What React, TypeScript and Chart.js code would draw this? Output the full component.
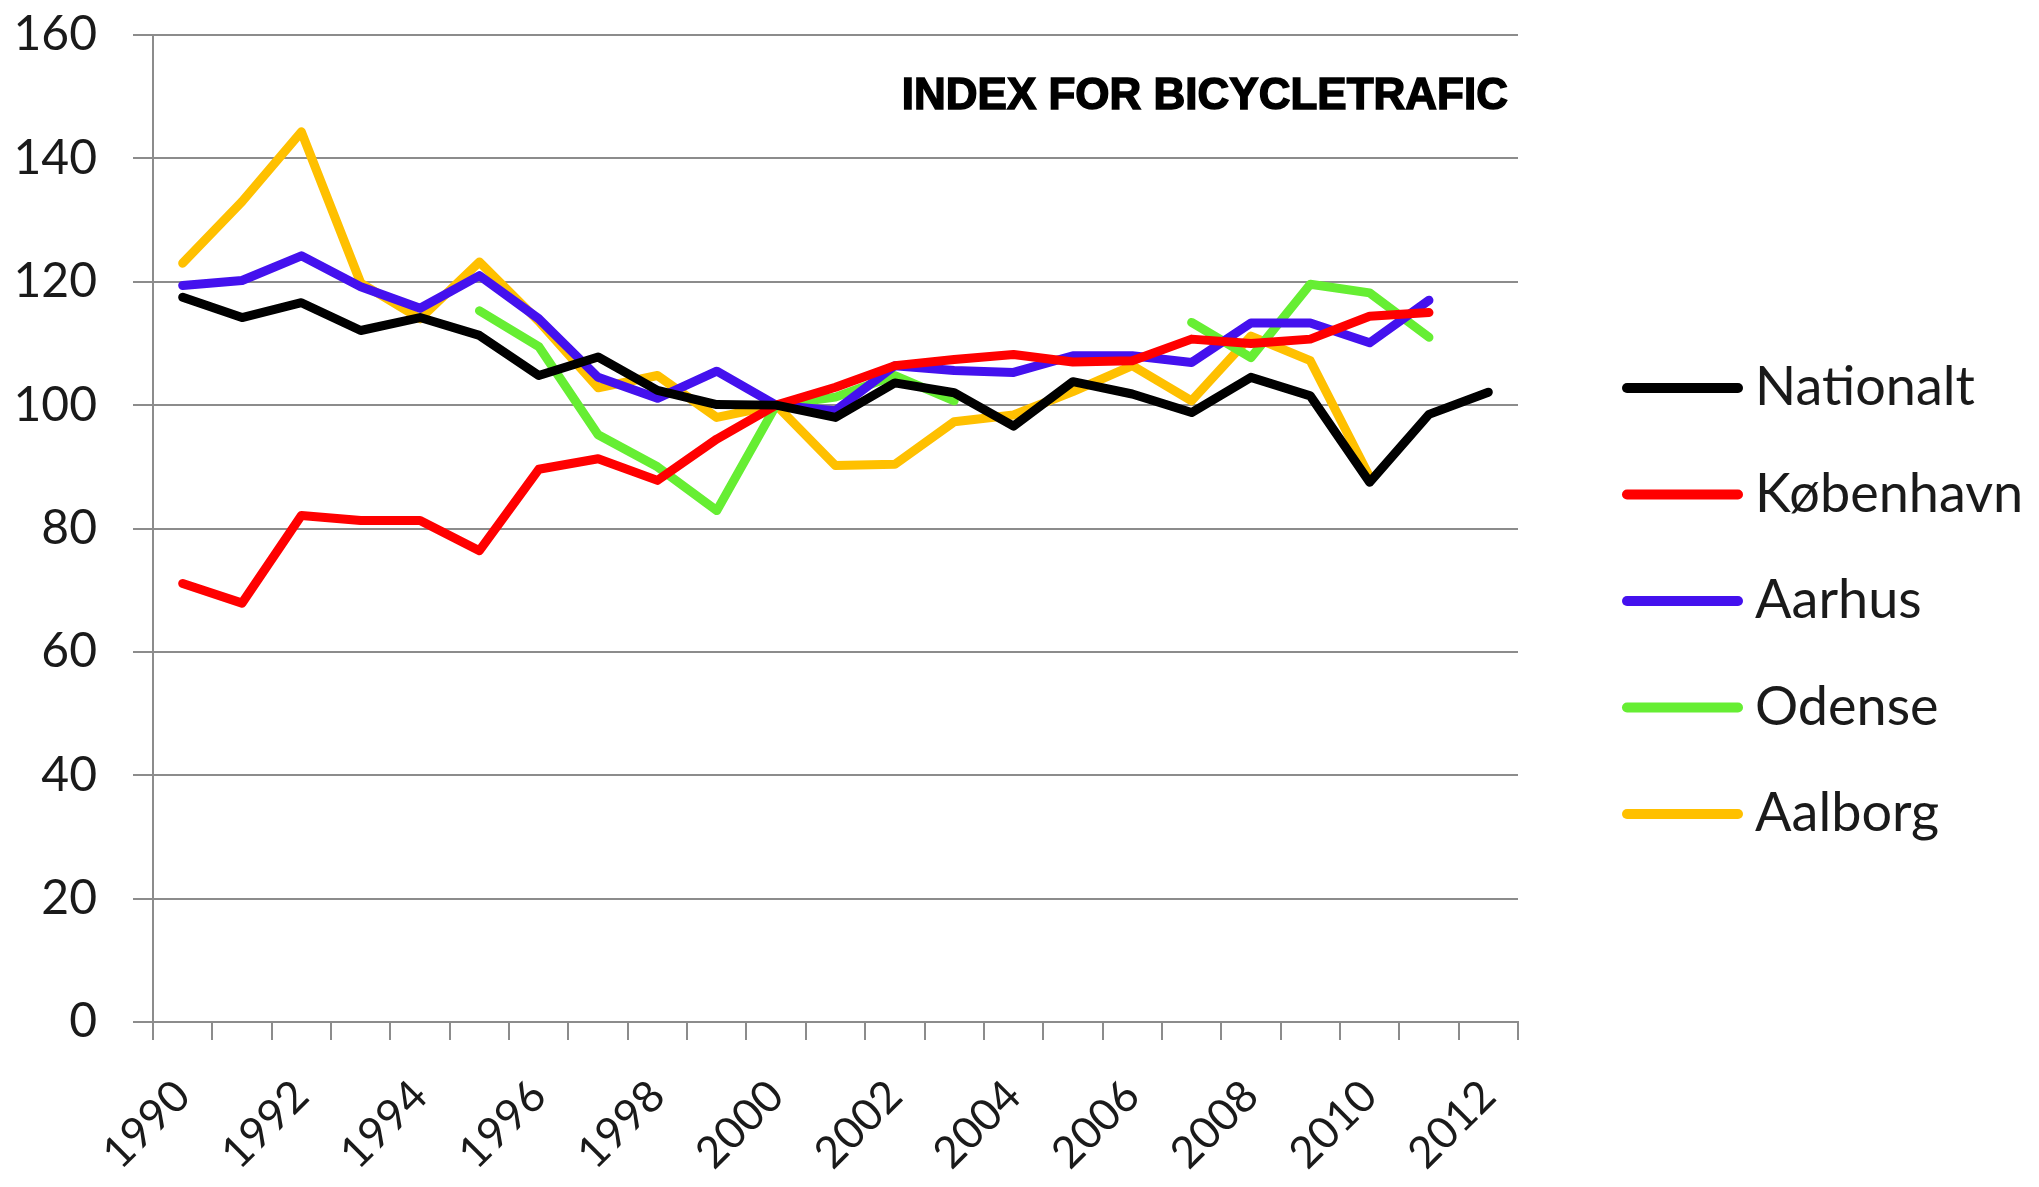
import React, { useEffect, useRef } from "react";
import { Chart, registerables } from "chart.js";

Chart.register(...registerables);

const years = [
  "1990", "1991", "1992", "1993", "1994", "1995", "1996", "1997", "1998", "1999", "2000",
  "2001", "2002", "2003", "2004", "2005", "2006", "2007", "2008", "2009", "2010", "2011", "2012",
];

const nationalt = [117.5, 114.2, 116.6, 112.1, 114.2, 111.3, 104.8, 107.8, 102.4, 100.1, 100, 98, 103.6, 102, 96.6, 103.8, 101.8, 98.8, 104.5, 101.5, 87.5, 98.5, 102.1];
const koebenhavn = [71.1, 67.9, 82.1, 81.3, 81.3, 76.4, 89.6, 91.3, 87.8, 94.5, 100, 102.9, 106.4, 107.4, 108.2, 107, 107.2, 110.7, 110, 110.7, 114.4, 115, null];
const aarhus = [119.4, 120.2, 124.2, 119.2, 115.7, 121, 114, 104.5, 101.1, 105.5, 100, 99.1, 106.4, 105.6, 105.3, 108, 108, 106.9, 113.3, 113.3, 110.1, 117, null];
const odense = [null, null, null, null, null, 115.3, 109.5, 95.2, 90, 82.9, 100, 101.3, 104.8, 100.7, null, null, null, 113.4, 107.7, 119.6, 118.2, 111, null];
const aalborg = [123, 133, 144.3, 119.8, 114, 123.2, 113.6, 102.8, 104.8, 98, 100, 90.2, 90.4, 97.3, 98.4, 102.2, 106.4, 100.7, 111.2, 107.2, 88.4, null, null];

const seriesNames = ["Nationalt", "København", "Aarhus", "Odense", "Aalborg"];
const seriesColors = ["#000000", "#ff0000", "#4411ee", "#66ee33", "#ffc000"];
const seriesData = [nationalt, koebenhavn, aarhus, odense, aalborg];

const yTicks = [0, 20, 40, 60, 80, 100, 120, 140, 160];
const chartTitle = "INDEX FOR BICYCLETRAFIC";

const W = 2039;
const H = 1187;
const FONT = "Lato, 'Open Sans', sans-serif";

const overlayPlugin = {
  id: "overlay",
  afterDraw(chart: any) {
    const ctx = chart.ctx;
    const area = chart.chartArea;
    ctx.save();
    // title inside plot, top right
    ctx.fillStyle = "#000";
    ctx.strokeStyle = "#000";
    ctx.lineWidth = 1.5;
    ctx.font = "bold 44px 'Liberation Sans', Arial, sans-serif";
    ctx.textAlign = "right";
    ctx.textBaseline = "alphabetic";
    ctx.fillText(chartTitle, area.right - 10, area.top + 74, 607);
    ctx.strokeText(chartTitle, area.right - 10, area.top + 74, 607);

    // legend on right
    const legendX = area.right + 104;
    const swatchLen = 121;
    const top = 388;
    const step = 106.5;
    ctx.font = `54px ${FONT}`;
    ctx.textAlign = "left";
    ctx.textBaseline = "middle";
    seriesNames.forEach((name, i) => {
      const y = top + i * step;
      ctx.strokeStyle = seriesColors[i];
      ctx.lineWidth = 10;
      ctx.lineCap = "round";
      ctx.beginPath();
      ctx.moveTo(legendX + 5, y);
      ctx.lineTo(legendX + swatchLen - 5, y);
      ctx.stroke();
      ctx.fillStyle = "#1a1a1a";
      ctx.fillText(name, legendX + swatchLen + 12, y);
    });
    ctx.restore();
  },
};

export default function App() {
  const ref = useRef<HTMLCanvasElement | null>(null);

  useEffect(() => {
    if (!ref.current) return;
    const gridColor = "#8c8c8c";
    const chart = new Chart(ref.current, {
      type: "line",
      data: {
        labels: years,
        datasets: seriesNames.map((name, i) => ({
          label: name,
          data: seriesData[i],
          borderColor: seriesColors[i],
          backgroundColor: seriesColors[i],
          borderWidth: 9,
          pointRadius: 0,
          pointHoverRadius: 0,
          tension: 0,
          spanGaps: false,
          borderJoinStyle: "round" as const,
          borderCapStyle: "round" as const,
        })),
      },
      options: {
        responsive: false,
        animation: false,
        layout: { padding: { top: 35, right: W - 1518, bottom: 0, left: 0 } },
        plugins: {
          legend: { display: false },
          tooltip: { enabled: false },
          title: { display: false },
        },
        scales: {
          x: {
            type: "category",
            offset: true,
            grid: {
              display: true,
              offset: true,
              drawOnChartArea: false,
              drawTicks: true,
              tickLength: 18,
              color: gridColor,
              lineWidth: 2,
            },
            border: { display: true, color: gridColor, width: 2 },
            ticks: {
              autoSkip: false,
              minRotation: 45,
              maxRotation: 45,
              padding: 30,
              color: "#1a1a1a",
              font: { family: FONT, size: 44 },
              callback: function (this: any, value: any, index: number) {
                return index % 2 === 0 ? years[index] : "";
              },
            },
            afterFit: (scale: any) => {
              scale.height = H - 1022;
              scale.paddingLeft = 0;
              scale.paddingRight = 0;
            },
          },
          y: {
            min: 0,
            max: 160,
            afterBuildTicks: (scale: any) => {
              scale.ticks = yTicks.map((v) => ({ value: v }));
            },
            grid: {
              color: gridColor,
              lineWidth: 2,
              tickLength: 20,
              drawTicks: true,
            },
            border: { display: true, color: gridColor, width: 2 },
            ticks: {
              padding: 36,
              color: "#1a1a1a",
              font: { family: FONT, size: 48 },
            },
            afterFit: (scale: any) => {
              scale.width = 153;
              scale.paddingTop = 0;
              scale.paddingBottom = 0;
            },
          },
        },
      },
      plugins: [overlayPlugin],
    });
    return () => chart.destroy();
  }, []);

  return (
    <div style={{ position: "fixed", left: 0, top: 0, width: W, height: H, background: "#fff" }}>
      <canvas ref={ref} width={W} height={H} style={{ width: W, height: H, display: "block" }} />
    </div>
  );
}
